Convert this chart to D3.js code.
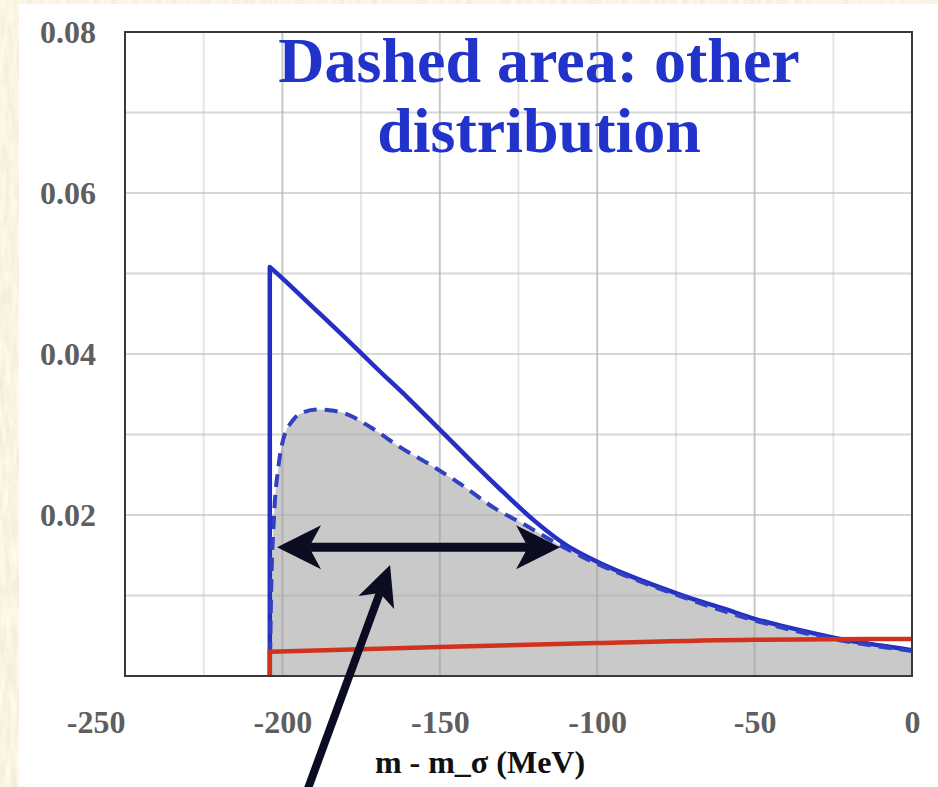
<!DOCTYPE html>
<html>
<head>
<meta charset="utf-8">
<script src="https://cdn.jsdelivr.net/npm/d3@7"></script>
<style>
  body { margin: 0; background: #efe5c6; }
  svg { display: block; }
</style>
</head>
<body>
<div id="chart"></div>
<script>
// ---- data ----
// solid blue curve (starts with a vertical edge at the threshold)
const solidX = [-204, -204, -200, -190, -180, -170, -160, -150, -140, -130, -120, -110, -100, -90, -80, -70, -60, -50, -40, -30, -20, -10, 0];
const solidY = [0, 0.0508, 0.0494, 0.0457, 0.0420, 0.0382, 0.0345, 0.0306, 0.0267, 0.0229, 0.0193, 0.0163, 0.0142, 0.0125, 0.0110, 0.0096, 0.0084, 0.0071, 0.0061, 0.0052, 0.0044, 0.0038, 0.0032];

// dashed blue curve ("other distribution"), shaded underneath
const dashedX = [-204, -203.6, -202.7, -201.2, -199.8, -196.6, -193, -189, -185, -180, -172, -162.5, -152, -144, -132, -124, -113, -101, -90, -75, -50, -25, 0];
const dashedY = [0, 0.0100, 0.0195, 0.0262, 0.0293, 0.0318, 0.0328, 0.0331, 0.0330, 0.0326, 0.0309, 0.0284, 0.0260, 0.0240, 0.0207, 0.0190, 0.0165, 0.0141, 0.0123, 0.0101, 0.0069, 0.0046, 0.0031];

// red background line
const redX = [-204, -204, -150, -100, -50, 0];
const redY = [0, 0.0030, 0.0036, 0.0041, 0.0045, 0.0046];

// axes
const xTicks = [-250, -200, -150, -100, -50, 0];
const yTicks = [0.02, 0.04, 0.06, 0.08];
const xLabel = "m - m_σ (MeV)";
const titleLines = ["Dashed area: other", "distribution"];

// annotation arrows, in data units
const widthArrow = { from: [-201.7, 0.0160], to: [-111.8, 0.0160] };
const pointerArrow = { from: [-191.9, -0.0140], to: [-165.8, 0.0138] };

// ---- setup ----
const W = 938, H = 787;
const svg = d3.select("#chart").append("svg")
  .attr("width", W)
  .attr("height", H);

// parchment background
const defs = svg.append("defs");
const paper = defs.append("filter").attr("id", "paper")
  .attr("x", 0).attr("y", 0).attr("width", "100%").attr("height", "100%");
paper.append("feTurbulence")
  .attr("type", "fractalNoise")
  .attr("baseFrequency", "0.18 0.035")
  .attr("numOctaves", 3)
  .attr("seed", 7);
paper.append("feColorMatrix")
  .attr("type", "matrix")
  .attr("values", "0.22 0 0 0 0.84  0.22 0 0 0 0.79  0.22 0 0 0 0.66  0 0 0 0 1");

svg.append("rect")
  .attr("width", W).attr("height", H)
  .attr("filter", "url(#paper)");

// white slide area
svg.append("rect")
  .attr("x", 19).attr("y", 4)
  .attr("width", W - 19).attr("height", H - 4)
  .attr("fill", "#ffffff");

const x = d3.scaleLinear().domain([-250, 0]).range([125, 912]);
const y = d3.scaleLinear().domain([0, 0.08]).range([676, 32]);

const serif = "'Liberation Serif', 'Times New Roman', serif";

// ---- shaded area under the dashed curve (drawn under the grid) ----
const dashedPts = dashedX.map((d, i) => [d, dashedY[i]]);
const area = d3.area()
  .x(d => x(d[0]))
  .y0(y(0))
  .y1(d => y(d[1]))
  .curve(d3.curveMonotoneX);

svg.append("path")
  .attr("d", area(dashedPts))
  .attr("fill", "#c9c9c9");

// ---- grid ----
const grid = svg.append("g").attr("class", "grid");
d3.range(-250, 1, 25).forEach(v => {
  const major = v % 50 === 0;
  grid.append("line")
    .attr("x1", x(v)).attr("x2", x(v))
    .attr("y1", y(0)).attr("y2", y(0.08))
    .attr("stroke", major ? "#9a9a9a" : "#c8c8c8")
    .attr("stroke-opacity", major ? 0.55 : 0.45)
    .attr("stroke-width", 2);
});
d3.range(0.01, 0.08, 0.01).forEach(v => {
  grid.append("line")
    .attr("x1", x(-250)).attr("x2", x(0))
    .attr("y1", y(v)).attr("y2", y(v))
    .attr("stroke", "#b0b0b0")
    .attr("stroke-opacity", 0.5)
    .attr("stroke-width", 2);
});

// ---- curves ----
const curveLine = d3.line()
  .x(d => x(d[0]))
  .y(d => y(d[1]))
  .curve(d3.curveMonotoneX);

// path that starts with a straight vertical edge and continues as a smooth curve
function edgedPath(xs, ys) {
  const pts = xs.map((d, i) => [d, ys[i]]);
  const head = pts[0];
  const rest = pts.slice(1);
  return `M${x(head[0])},${y(head[1])}L` + curveLine(rest).slice(1);
}

svg.append("path")
  .attr("d", edgedPath(solidX, solidY))
  .attr("fill", "none")
  .attr("stroke", "#2430c4")
  .attr("stroke-width", 4.5)
  .attr("stroke-linejoin", "round");

svg.append("path")
  .attr("d", curveLine(dashedPts))
  .attr("fill", "none")
  .attr("stroke", "#3040c0")
  .attr("stroke-width", 4)
  .attr("stroke-dasharray", "13,8");

svg.append("path")
  .attr("d", edgedPath(redX, redY))
  .attr("fill", "none")
  .attr("stroke", "#d0321e")
  .attr("stroke-width", 4.5);

// ---- frame ----
svg.append("rect")
  .attr("x", x(-250)).attr("y", y(0.08))
  .attr("width", x(0) - x(-250)).attr("height", y(0) - y(0.08))
  .attr("fill", "none")
  .attr("stroke", "#3a3a3a")
  .attr("stroke-width", 2);

// ---- axes ----
const xAxis = svg.append("g")
  .attr("transform", `translate(0,${y(0)})`)
  .call(d3.axisBottom(x).tickValues(xTicks).tickSize(0).tickPadding(34).tickFormat(d => String(d)));
xAxis.select(".domain").remove();
xAxis.selectAll("text")
  .attr("font-family", serif)
  .attr("font-weight", "bold")
  .attr("font-size", 32)
  .attr("fill", "#5e5e5e")
  .attr("dy", "0.71em")
  .attr("text-anchor", d => d === -250 ? "end" : "middle");

const yAxis = svg.append("g")
  .attr("transform", `translate(${x(-250)},0)`)
  .call(d3.axisLeft(y).tickValues(yTicks).tickSize(0).tickPadding(29).tickFormat(d3.format(".2f")));
yAxis.select(".domain").remove();
yAxis.selectAll("text")
  .attr("font-family", serif)
  .attr("font-weight", "bold")
  .attr("font-size", 32)
  .attr("fill", "#5e5e5e");

svg.append("text")
  .attr("x", 480)
  .attr("y", 773)
  .attr("text-anchor", "middle")
  .attr("font-family", serif)
  .attr("font-weight", "bold")
  .attr("font-size", 32)
  .attr("fill", "#111")
  .text(xLabel);

// ---- title ----
titleLines.forEach((t, i) => {
  svg.append("text")
    .attr("x", 539)
    .attr("y", 82 + i * 70)
    .attr("text-anchor", "middle")
    .attr("font-family", serif)
    .attr("font-weight", "bold")
    .attr("font-size", 64)
    .attr("fill", "#2233cc")
    .text(t);
});

// ---- arrows ----
const arrowColor = "#0b0b22";

function arrowHead(g, tip, back, len, hw, notch) {
  const dx = tip[0] - back[0], dy = tip[1] - back[1];
  const n = Math.hypot(dx, dy);
  const ux = dx / n, uy = dy / n;
  const px = -uy, py = ux;
  const bx = tip[0] - len * ux, by = tip[1] - len * uy;
  const pts = [
    tip,
    [bx + hw * px, by + hw * py],
    [tip[0] - (len - notch) * ux, tip[1] - (len - notch) * uy],
    [bx - hw * px, by - hw * py]
  ];
  g.append("path")
    .attr("d", "M" + pts.map(p => p.join(",")).join("L") + "Z")
    .attr("fill", arrowColor);
  return pts[2];
}

function drawArrow(a, both, lw, len, hw, notch) {
  const g = svg.append("g");
  const p1 = [x(a.from[0]), y(a.from[1])];
  const p2 = [x(a.to[0]), y(a.to[1])];
  const e2 = arrowHead(g, p2, p1, len, hw, notch);
  const e1 = both ? arrowHead(g, p1, p2, len, hw, notch) : p1;
  g.insert("line", ":first-child")
    .attr("x1", e1[0]).attr("y1", e1[1])
    .attr("x2", e2[0]).attr("y2", e2[1])
    .attr("stroke", arrowColor)
    .attr("stroke-width", lw);
}

drawArrow(widthArrow, true, 9, 44, 22, 12);
drawArrow(pointerArrow, false, 8, 40, 19, 10);
</script>
</body>
</html>
